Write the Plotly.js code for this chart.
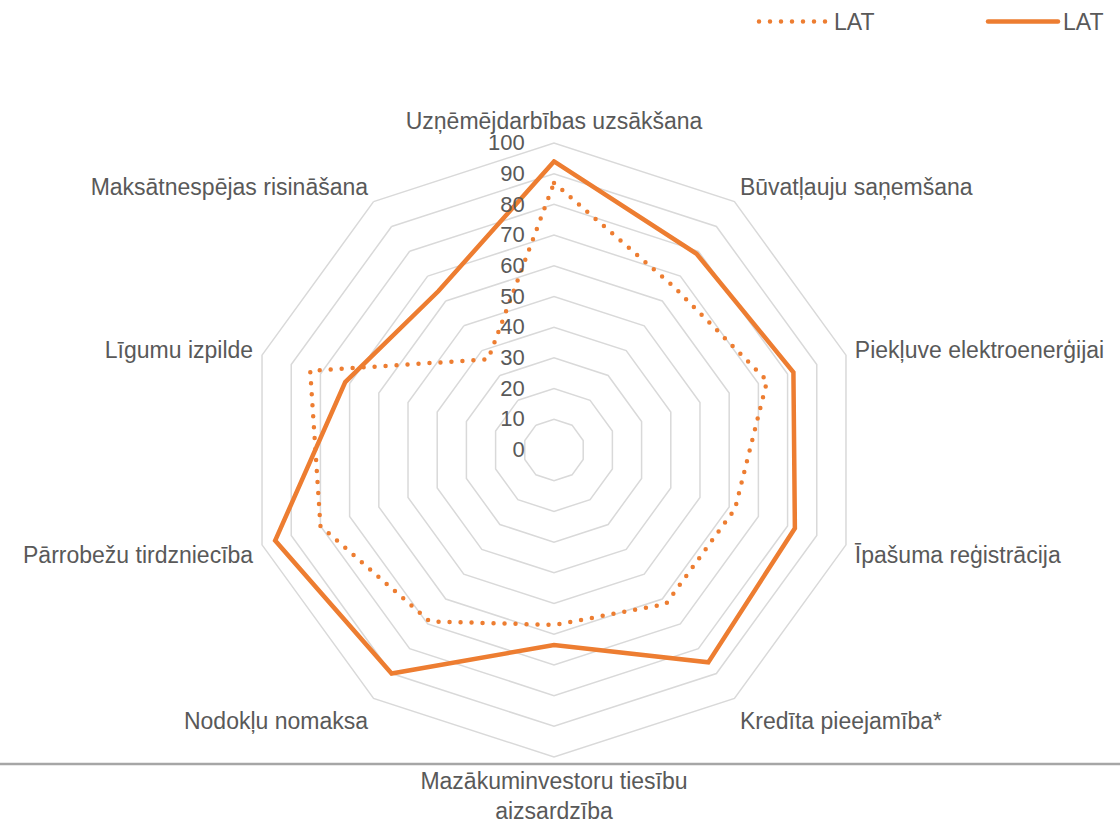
<!DOCTYPE html>
<html>
<head>
<meta charset="utf-8">
<script src="https://cdn.plot.ly/plotly-3.0.1.min.js"></script>
<style>
  html, body { margin: 0; padding: 0; background: #fff; }
  #chart { width: 1120px; height: 825px; }
  .js-line { stroke-linecap: round; }
</style>
</head>
<body>
<div id="chart"></div>
<script>
const categories = [
  "Uzņēmējdarbības uzsākšana",
  "Būvatļauju saņemšana",
  "Piekļuve elektroenerģijai",
  "Īpašuma reģistrācija",
  "Kredīta pieejamība*",
  "Mazākuminvestoru tiesību<br>aizsardzība",
  "Nodokļu nomaksa",
  "Pārrobežu tirdzniecība",
  "Līgumu izpilde",
  "Maksātnespējas risināšana"
];
const seriesDottedName = "LAT";
const seriesDotted = [87, 66, 73, 62, 62, 57, 69, 80, 83.5, 36.5];
const seriesSolidName = "LAT";
const seriesSolid = [94, 79, 82, 82.5, 85.5, 63.5, 90, 95.5, 71.5, 64];
const radialTicks = [0, 10, 20, 30, 40, 50, 60, 70, 80, 90, 100];

const orange = "#ED7D31";
const textColor = "#595959";
const gridColor = "#D9D9D9";

function closed(arr) { return arr.concat([arr[0]]); }

const traces = [
  {
    type: "scatterpolar",
    mode: "lines",
    name: seriesDottedName,
    r: closed(seriesDotted),
    theta: closed(categories),
    line: { color: orange, width: 4.5, dash: "0px,11px" },
    legend: "legend",
    hoverinfo: "skip"
  },
  {
    type: "scatterpolar",
    mode: "lines",
    name: seriesSolidName,
    r: closed(seriesSolid),
    theta: closed(categories),
    line: { color: orange, width: 4.5 },
    legend: "legend2",
    hoverinfo: "skip"
  }
];

const legendCommon = {
  orientation: "h",
  xanchor: "left",
  y: 1, yanchor: "top",
  font: { size: 23, color: textColor },
  itemwidth: 70,
  bgcolor: "rgba(0,0,0,0)"
};

const layout = {
  width: 1120,
  height: 825,
  margin: { l: 0, r: 0, t: 0, b: 0 },
  paper_bgcolor: "#ffffff",
  plot_bgcolor: "#ffffff",
  font: { family: "Liberation Sans, Arial, sans-serif", size: 22, color: textColor },
  showlegend: true,
  legend: Object.assign({}, legendCommon, { x: 754 / 1120 }),
  legend2: Object.assign({}, legendCommon, { x: 983 / 1120 }),
  polar: {
    domain: { x: [247 / 1120, 861 / 1120], y: [68 / 825, 682 / 825] },
    gridshape: "linear",
    bgcolor: "#ffffff",
    radialaxis: {
      range: [0, 100],
      tickvals: radialTicks,
      ticktext: radialTicks.map(String),
      angle: 90,
      side: "counterclockwise",
      tickangle: 90,
      showline: false,
      ticks: "outside",
      ticklen: 21,
      tickcolor: "rgba(0,0,0,0)",
      showgrid: true,
      gridcolor: gridColor,
      gridwidth: 1.5,
      tickfont: { size: 22, color: textColor }
    },
    angularaxis: {
      type: "category",
      categoryarray: categories,
      rotation: 90,
      direction: "clockwise",
      showgrid: false,
      showline: true,
      linecolor: gridColor,
      linewidth: 1.5,
      ticks: "outside",
      ticklen: 4,
      tickcolor: "rgba(0,0,0,0)",
      tickfont: { size: 23, color: textColor }
    }
  },
  shapes: [
    {
      type: "line", xref: "paper", yref: "paper",
      x0: 0, x1: 1, y0: 61 / 825, y1: 61 / 825,
      line: { color: "#A6A6A6", width: 2.5 }
    }
  ]
};

Plotly.newPlot("chart", traces, layout, { staticPlot: true, displayModeBar: false });
</script>
</body>
</html>
